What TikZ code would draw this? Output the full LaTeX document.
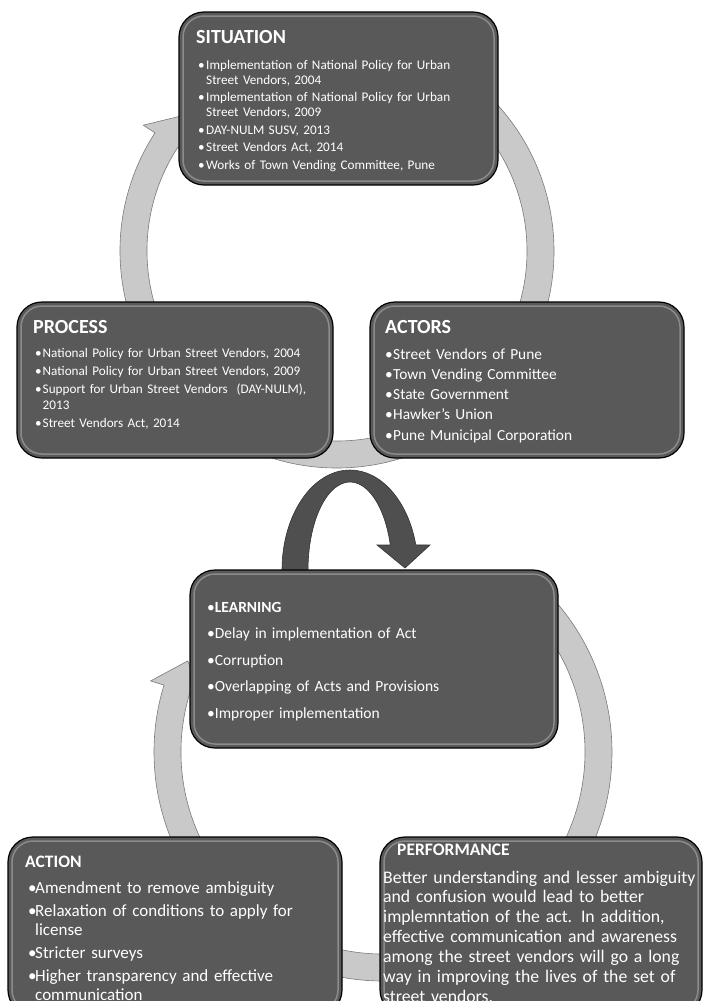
\documentclass[tikz,border=0pt]{standalone}
\usepackage{fontspec}
\setmainfont{Carlito}
\usetikzlibrary{positioning,calc}
\definecolor{panelgray}{HTML}{595959}
\definecolor{ringgray}{HTML}{C9C9C9}
\definecolor{ringedge}{HTML}{7A7A7A}
\definecolor{swirlgray}{HTML}{4F4F4F}
\newlength{\bulw}
\newcommand{\bhead}{\hangindent=\bulw\hangafter=1\noindent\makebox[\bulw][l]{\textbullet}}
\newcommand{\bitem}{\par\bhead}

\begin{document}
\begin{tikzpicture}[x=1pt,y=1pt,
  panel/.style={fill=panelgray,draw=black,line width=1.2pt,rounded corners=25pt},
  sheen/.style={draw=white,opacity=0.3,line width=1.5pt,rounded corners=21pt},
  ring/.style={fill=ringgray,draw=ringedge,line width=0.6pt},
  swirl/.style={fill=swirlgray,draw=black!80,line width=0.6pt},
  txt/.style={text=white,inner sep=0pt,anchor=base west,align=left},
  head/.style={txt,font=\bfseries\fontsize{20}{24}\selectfont}]
\useasboundingbox (0,0) rectangle (710,-1001);

\coordinate (top-hub) at (337,-251);
\coordinate (low-hub) at (383,-752);

\draw[swirl] (282,-575) -- (282,-570) arc[start angle=180,end angle=14.5,x radius=68,y radius=100]
  -- (430,-545) -- (405,-568) -- (377,-545) -- (390.3,-545)
  arc[start angle=16.5,end angle=180,x radius=42,y radius=88] -- (308,-575) -- cycle;

\draw[ring] ($(top-hub)+(55:217)$) arc[start angle=55,end angle=-213,radius=217]
  -- ($(top-hub)+(-213:231)$) -- ($(top-hub)+(-222:203.5)$) -- ($(top-hub)+(-213:176)$)
  -- ($(top-hub)+(-213:190)$) arc[start angle=-213,end angle=55,radius=190] -- cycle;
\draw[ring] ($(low-hub)+(45:229)$) arc[start angle=45,end angle=-197,radius=229]
  -- ($(low-hub)+(-197:243)$) -- ($(low-hub)+(-205:215.5)$) -- ($(low-hub)+(-197:188)$)
  -- ($(low-hub)+(-197:202)$) arc[start angle=-197,end angle=45,radius=202] -- cycle;

\foreach \xa/\ya/\xb/\yb in {179/12/498/185, 17/302/333/458, 370/302/684/458,
  190/570/558/748, 8/837/342/1015, 380/837/702/1015}
{
  \draw[panel] (\xa,-\ya) rectangle (\xb,-\yb);
  \draw[sheen] (\xa+4,-\ya-4) rectangle (\xb-4,-\yb+4);
}

\node[head] (sit-head) at (196,-43) {SITUATION};
\node[txt,text width=300,font=\fontsize{13.2}{15}\selectfont] (sit-list) at (198,-69)
  {\setlength{\bulw}{8pt}\setlength{\parskip}{2.5pt}%
   \bhead Implementation of National Policy for Urban\newline Street Vendors, 2004
   \bitem Implementation of National Policy for Urban\newline Street Vendors, 2009
   \bitem DAY-NULM SUSV, 2013
   \bitem Street Vendors Act, 2014
   \bitem Works of Town Vending Committee, Pune\par};

\node[head] (proc-head) at (33,-333) {PROCESS};
\node[txt,text width=300,font=\fontsize{13.2}{16.5}\selectfont] (proc-list) at (35,-357)
  {\setlength{\bulw}{7.5pt}\setlength{\parskip}{1.5pt}%
   \bhead National Policy for Urban Street Vendors, 2004
   \bitem National Policy for Urban Street Vendors, 2009
   \bitem Support for Urban Street Vendors\ \ (DAY-NULM),\newline 2013
   \bitem Street Vendors Act, 2014\par};

\node[head] (act-head) at (385,-333) {ACTORS};
\node[txt,text width=300,font=\fontsize{15.4}{20.3}\selectfont] (act-list) at (385,-359)
  {\setlength{\bulw}{8pt}%
   \bhead Street Vendors of Pune
   \bitem Town Vending Committee
   \bitem State Government
   \bitem Hawker's Union
   \bitem Pune Municipal Corporation\par};

\node[txt,text width=340,font=\fontsize{15.5}{26.5}\selectfont] (learn-list) at (207,-612)
  {\textbullet\textbf{LEARNING}\par
   \textbullet Delay in implementation of Act\par
   \textbullet Corruption\par
   \textbullet Overlapping of Acts and Provisions\par
   \textbullet Improper implementation};

\node[txt,font=\bfseries\fontsize{17.5}{20}\selectfont] (do-head) at (25,-867) {ACTION};
\node[txt,text width=320,font=\fontsize{17}{19}\selectfont] (do-list) at (28,-893)
  {\setlength{\bulw}{7pt}\setlength{\parskip}{4pt}%
   \bhead Amendment to remove ambiguity
   \bitem Relaxation of conditions to apply for\newline license
   \bitem Stricter surveys
   \bitem Higher transparency and effective\newline communication\par};

\node[txt,font=\bfseries\fontsize{17.5}{19}\selectfont] (perf-head) at (397,-855) {PERFORMANCE};
\node[txt,text width=340,font=\fontsize{17.7}{19.9}\selectfont] (perf-text) at (383,-883)
  {Better understanding and lesser ambiguity\newline
   and confusion would lead to better\newline
   implemntation of the act. In addition,\newline
   effective communication and awareness\newline
   among the street vendors will go a long\newline
   way in improving the lives of the set of\newline
   street vendors.};
\end{tikzpicture}
\end{document}
